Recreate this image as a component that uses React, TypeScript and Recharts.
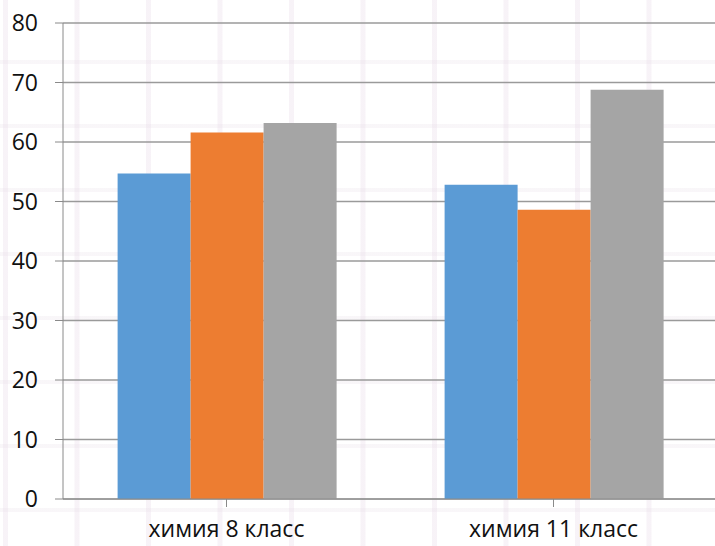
import { Bar, BarChart, CartesianGrid, XAxis, YAxis } from "recharts";

// categories and series values
const categories = ["химия 8 класс", "химия 11 класс"];
const seriesA = [54.7, 52.8];
const seriesB = [61.6, 48.6];
const seriesC = [63.2, 68.8];
const yTicks = [0, 10, 20, 30, 40, 50, 60, 70, 80];

const data = categories.map((name, i) => ({
  name,
  a: seriesA[i],
  b: seriesB[i],
  c: seriesC[i],
}));

const font = "'Open Sans', 'Noto Sans', sans-serif";

// faint graph-paper background behind the chart
const paper =
  "linear-gradient(90deg, rgba(230,215,230,0.3) 0px, rgba(230,215,230,0.3) 5px, transparent 5px)," +
  "linear-gradient(0deg, rgba(230,220,230,0.25) 0px, rgba(230,220,230,0.25) 4px, transparent 4px)";

export default function App() {
  return (
    <div
      style={{
        position: "absolute",
        top: 0,
        left: 0,
        width: 715,
        height: 546,
        overflow: "hidden",
        background: "#ffffff",
      }}
    >
      <div
        style={{
          position: "absolute",
          inset: 0,
          backgroundImage: paper,
          backgroundSize: "71.5px 100%, 100% 64px",
          backgroundPosition: "3px 0px, 0px 0px",
        }}
      />
      <BarChart
        width={717}
        height={546}
        data={data}
        barGap={0}
        barCategoryGap="16.7%"
        margin={{ top: 23, right: 0, left: 0, bottom: 0 }}
        style={{ position: "relative", fontFamily: font }}
      >
        <CartesianGrid vertical={false} stroke="#9a9a9a" strokeWidth={1.3} />
        <XAxis
          dataKey="name"
          height={47}
          tickSize={8}
          tickMargin={14}
          stroke="#8a8a8a"
          fontSize={23}
          tick={{ fill: "#111111", fontSize: 23, fontFamily: font }}
        />
        <YAxis
          width={63}
          domain={[0, 80]}
          ticks={yTicks}
          interval={0}
          tickSize={8}
          tickMargin={17}
          stroke="#8a8a8a"
          fontSize={23}
          tick={{ fill: "#111111", fontSize: 23, fontFamily: font }}
        />
        <Bar dataKey="a" fill="#5B9BD5" isAnimationActive={false} />
        <Bar dataKey="b" fill="#ED7D31" isAnimationActive={false} />
        <Bar dataKey="c" fill="#A5A5A5" isAnimationActive={false} />
      </BarChart>
    </div>
  );
}
